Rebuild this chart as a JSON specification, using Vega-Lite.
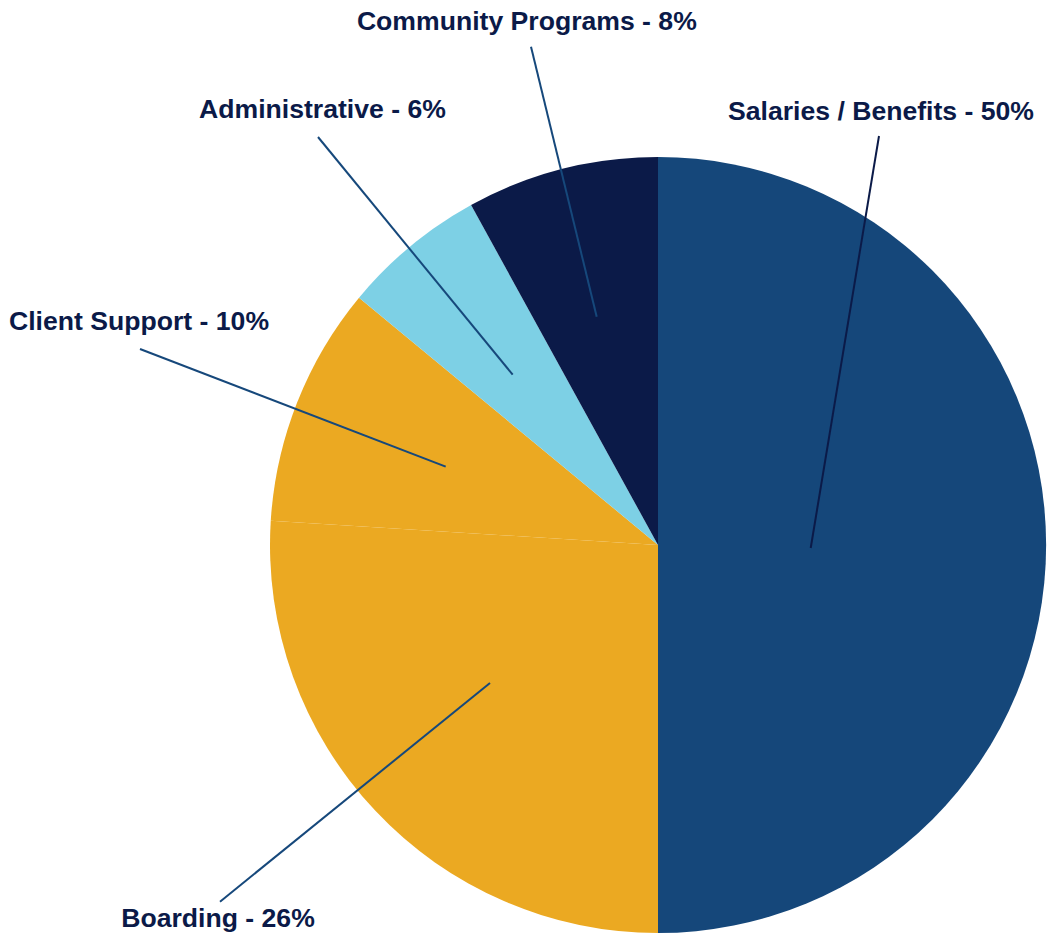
{
  "$schema": "https://vega.github.io/schema/vega-lite/v6.json",
  "width": 1047,
  "height": 934,
  "autosize": {"type": "fit", "contains": "padding"},
  "padding": 0,
  "background": "white",
  "config": {"view": {"stroke": null}},
  "datasets": {
    "slices": [
      {"category": "Salaries / Benefits", "percent": 50, "rank": 1},
      {"category": "Boarding", "percent": 26, "rank": 2},
      {"category": "Client Support", "percent": 10, "rank": 3},
      {"category": "Administrative", "percent": 6, "rank": 4},
      {"category": "Community Programs", "percent": 8, "rank": 5}
    ],
    "labels": [
      {"category": "Salaries / Benefits", "label": "Salaries / Benefits - 50%", "px": 39.36, "py": -0.77, "ex": 56.96, "ey": 105.41, "tx": 57.47, "ty": 109.54},
      {"category": "Boarding", "label": "Boarding - 26%", "px": -43.3, "py": -35.57, "ex": -112.89, "ey": -91.93, "tx": -113.4, "ty": -98.45},
      {"category": "Client Support", "label": "Client Support - 10%", "px": -54.72, "py": 20.18, "ex": -133.51, "ey": 50.52, "tx": -133.76, "ty": 55.41},
      {"category": "Administrative", "label": "Administrative - 6%", "px": -37.45, "py": 43.89, "ex": -87.63, "ey": 105.15, "tx": -86.47, "ty": 110.05},
      {"category": "Community Programs", "label": "Community Programs - 8%", "px": -15.8, "py": 58.84, "ex": -32.73, "ey": 128.43, "tx": -33.8, "ty": 132.73}
    ]
  },
  "encoding": {
    "x": {"type": "quantitative", "scale": {"domain": [-169.59, 100.26], "nice": false, "zero": false}, "axis": null},
    "y": {"type": "quantitative", "scale": {"domain": [-100.26, 140.46], "nice": false, "zero": false}, "axis": null}
  },
  "layer": [
    {
      "data": {"name": "slices"},
      "mark": {"type": "arc", "outerRadius": 388, "strokeWidth": 0},
      "encoding": {
        "x": {"datum": 0, "type": "quantitative"},
        "y": {"datum": 0, "type": "quantitative"},
        "theta": {"field": "percent", "type": "quantitative", "stack": true},
        "order": {"field": "rank", "type": "quantitative"},
        "color": {
          "field": "category",
          "type": "nominal",
          "scale": {
            "domain": ["Salaries / Benefits", "Boarding", "Client Support", "Administrative", "Community Programs"],
            "range": ["#15477a", "#eba922", "#eba922", "#7dd0e5", "#0b1a48"]
          },
          "legend": null
        }
      }
    },
    {
      "data": {"name": "labels"},
      "mark": {"type": "rule", "strokeWidth": 2},
      "encoding": {
        "x": {"field": "px", "type": "quantitative"},
        "y": {"field": "py", "type": "quantitative"},
        "x2": {"field": "ex"},
        "y2": {"field": "ey"},
        "color": {
          "condition": {"test": "datum.category === 'Salaries / Benefits'", "value": "#0b1a48"},
          "value": "#16487b"
        }
      }
    },
    {
      "data": {"name": "labels"},
      "mark": {"type": "text", "font": "Liberation Sans", "fontWeight": "bold", "fontSize": 26.6, "fill": "#0b1a48", "align": "center", "baseline": "alphabetic"},
      "encoding": {
        "x": {"field": "tx", "type": "quantitative"},
        "y": {"field": "ty", "type": "quantitative"},
        "text": {"field": "label", "type": "nominal"}
      }
    }
  ]
}
